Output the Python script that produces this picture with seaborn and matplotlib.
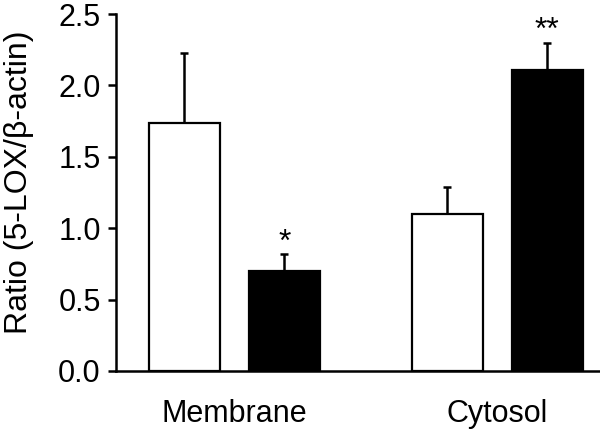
import matplotlib
matplotlib.use("Agg")
import matplotlib.pyplot as plt
import seaborn as sns
import pandas as pd
import numpy as np

fractions = ["Membrane", "Cytosol"]
groups = ["Control", "Treated"]
control_vals = [1.74, 1.10]
treated_vals = [0.70, 2.11]
control_err = [0.49, 0.19]
treated_err = [0.12, 0.19]
stars = {("Membrane", "Treated"): "*", ("Cytosol", "Treated"): "**"}
yticks = [0.0, 0.5, 1.0, 1.5, 2.0, 2.5]

sns.set_theme(style="white")
plt.rcParams["font.family"] = ["Liberation Sans", "DejaVu Sans"]

df = pd.DataFrame({
    "fraction": fractions * 2,
    "group": [groups[0]] * 2 + [groups[1]] * 2,
    "ratio": control_vals + treated_vals,
    "err": control_err + treated_err,
})

fig = plt.figure(figsize=(6, 4.3), dpi=100)
ax = fig.add_axes([116 / 600, 59 / 430, 484 / 600, 357 / 430])

sns.barplot(data=df, x="fraction", y="ratio", hue="group", order=fractions,
            hue_order=groups, palette=["white", "black"], edgecolor="black",
            linewidth=1.6, width=0.76, gap=0.29, errorbar=None, legend=False,
            saturation=1, ax=ax)

# match patches to data
bars = [p for p in ax.patches if p.get_height() > 0]
for p in bars:
    xc = p.get_x() + p.get_width() / 2
    cat = int(round(xc))
    grp = groups[0] if xc < cat else groups[1]
    row = df[(df.fraction == fractions[cat]) & (df.group == grp)].iloc[0]
    eb = ax.errorbar([xc], [row.ratio], yerr=[[0], [row.err]], fmt="none",
                     ecolor="black", elinewidth=1.8, capsize=3.2, capthick=1.8,
                     zorder=1)
    caps = eb.lines[1]
    if len(caps) > 1:
        caps[0].set_visible(False)
    s = stars.get((fractions[cat], grp))
    if s:
        ax.text(xc, row.ratio + row.err - 0.025, s, ha="center", va="bottom",
                fontsize=23, color="black")

ax.set_xlim(-0.45, 1.39)
ax.set_ylim(0, 2.5)
ax.set_yticks(yticks)
ax.set_yticklabels([f"{v:.1f}" for v in yticks])
ax.set_xlabel("")
ax.set_ylabel("Ratio (5-LOX/\u03b2-actin)", fontsize=23, color="black")
ax.yaxis.set_label_coords((34 - 116) / 484, (248 - 59) / 357)
for side in ["top", "right"]:
    ax.spines[side].set_visible(False)
for side in ["left", "bottom"]:
    ax.spines[side].set_color("black")
    ax.spines[side].set_linewidth(1.8)
ax.tick_params(axis="y", left=True, direction="out", length=6, width=1.8,
               labelsize=22, colors="black", pad=5)
ax.tick_params(axis="x", bottom=False, labelsize=22, colors="black", pad=14)

fig.savefig("out.png", dpi=100, facecolor="white")
